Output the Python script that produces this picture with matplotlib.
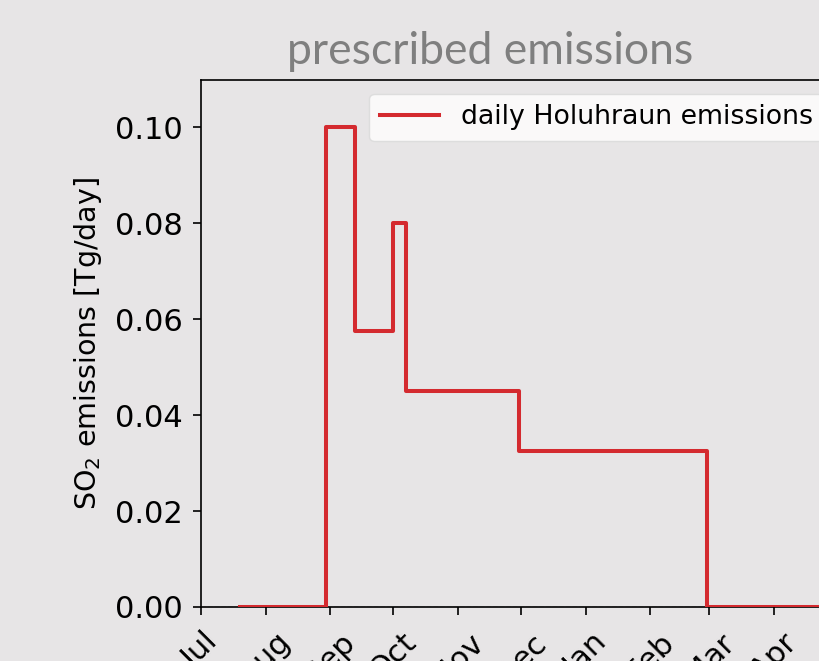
import matplotlib
matplotlib.use('Agg')
import matplotlib.pyplot as plt
import pandas as pd

# step changes of the prescribed Holuhraun SO2 emissions (Tg/day)
step_dates = ['2014-07-20', '2014-08-30', '2014-09-13', '2014-10-01', '2014-10-07',
              '2014-11-30', '2015-02-28', '2015-05-01']
step_values = [0.0, 0.10, 0.0575, 0.08, 0.045, 0.0325, 0.0, 0.0]

month_ticks = pd.date_range('2014-07-01', '2015-04-01', freq='MS')
month_labels = ['Jul', 'Aug', 'Sep', 'Oct', 'Nov', 'Dec', 'Jan', 'Feb', 'Mar', 'Apr']

bg = '#e7e5e6'
red = '#d42a2f'

fig = plt.figure(figsize=(8.19, 6.61), dpi=100, facecolor=bg)
ax = fig.add_axes([0.245, 0.0817, 0.7766, 0.797])
ax.set_facecolor(bg)

x = pd.to_datetime(step_dates)
ax.axhline(0, color='0.35', ls='--', lw=0.9, zorder=1)
ax.plot(x, step_values, drawstyle='steps-post', color=red, lw=2.9,
        label='daily Holuhraun emissions', zorder=3)

ax.set_xlim(pd.Timestamp('2014-07-01'), pd.Timestamp('2015-05-01'))
ax.set_ylim(0, 0.1098)
ax.set_yticks([0.0, 0.02, 0.04, 0.06, 0.08, 0.10])
ax.yaxis.set_major_formatter(matplotlib.ticker.FormatStrFormatter('%.2f'))
ax.set_xticks(month_ticks)
ax.set_xticklabels(month_labels, rotation=45, ha='center')

ax.tick_params(labelsize=22, length=6, width=1.2, pad=7)
ax.tick_params(axis='x', pad=9)
for s in ax.spines.values():
    s.set_linewidth(1.2)

ax.set_ylabel('SO$_2$ emissions [Tg/day]', fontsize=20.5, labelpad=8)

ax.legend(loc='upper right', fontsize=19.3, handlelength=2.2, framealpha=0.8,
          facecolor='white', edgecolor='0.85')

fig.text(0.598, 0.903, 'prescribed emissions', family='Lato', fontsize=32,
         color='#7f7f7f', ha='center', va='baseline')

fig.savefig('out.png', dpi=100, facecolor=bg)
